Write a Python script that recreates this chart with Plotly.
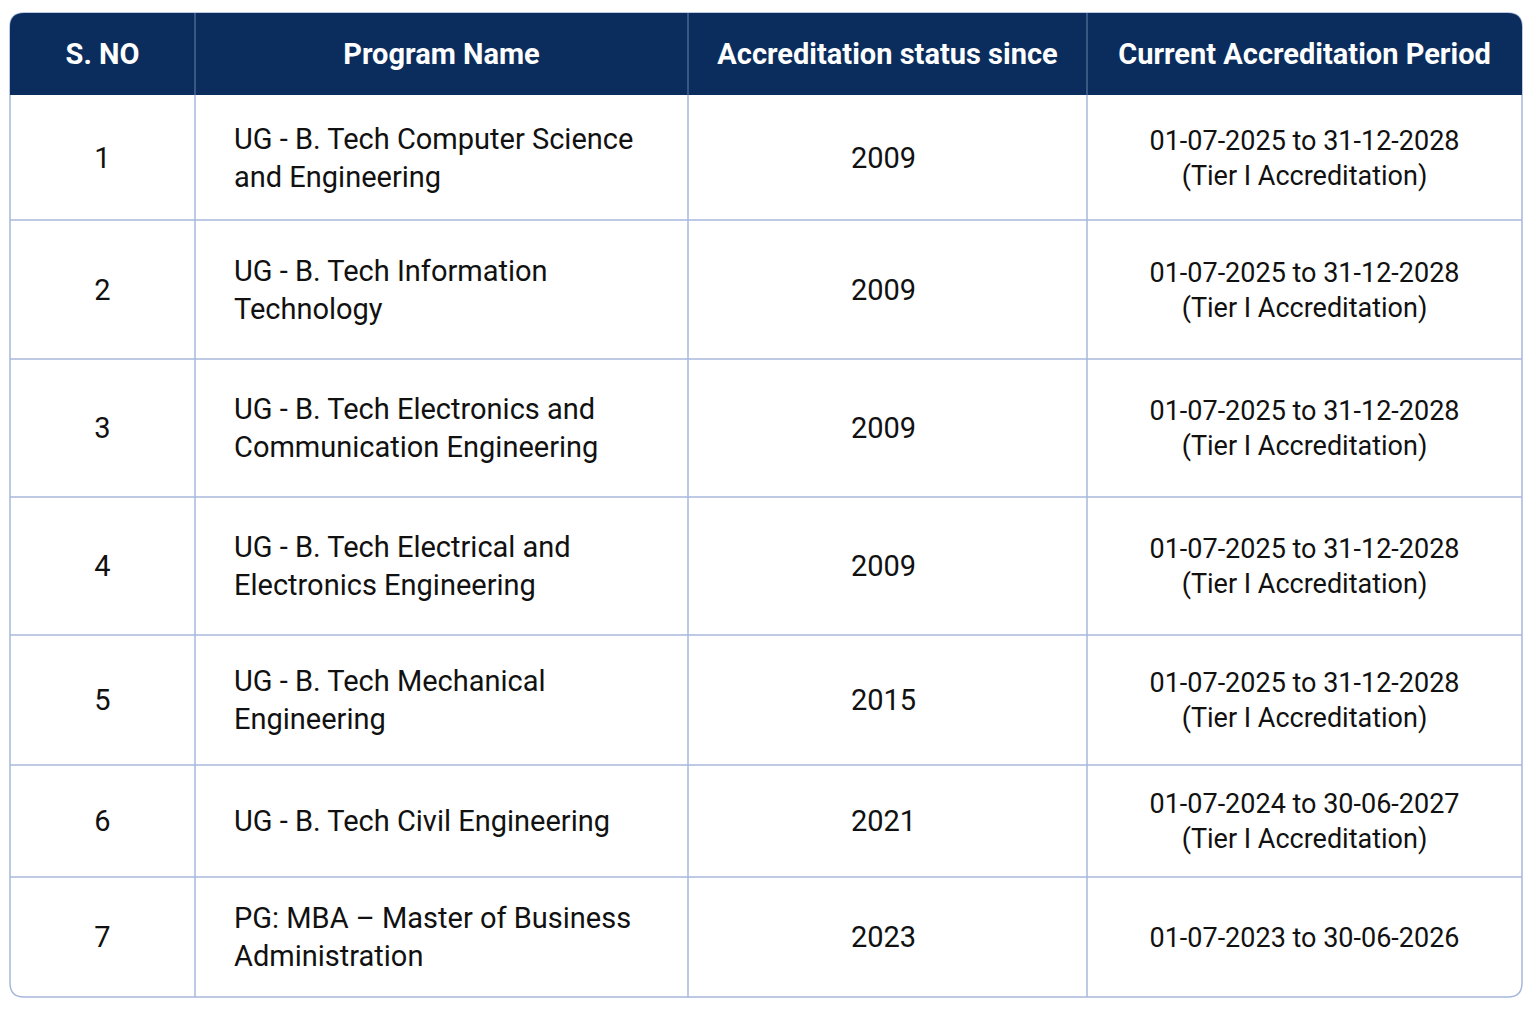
import plotly.graph_objects as go

# table contents
headers = ["S. NO", "Program Name", "Accreditation status since", "Current Accreditation Period"]
s_no = ["1", "2", "3", "4", "5", "6", "7"]
programs = [
    "UG - B. Tech Computer Science<br>and Engineering",
    "UG - B. Tech Information<br>Technology",
    "UG - B. Tech Electronics and<br>Communication Engineering",
    "UG - B. Tech Electrical and<br>Electronics Engineering",
    "UG - B. Tech Mechanical<br>Engineering",
    "UG - B. Tech Civil Engineering",
    "PG: MBA \u2013 Master of Business<br>Administration",
]
since = ["2009", "2009", "2009", "2009", "2015", "2021", "2023"]
periods = [
    "01-07-2025 to 31-12-2028<br>(Tier I Accreditation)",
    "01-07-2025 to 31-12-2028<br>(Tier I Accreditation)",
    "01-07-2025 to 31-12-2028<br>(Tier I Accreditation)",
    "01-07-2025 to 31-12-2028<br>(Tier I Accreditation)",
    "01-07-2025 to 31-12-2028<br>(Tier I Accreditation)",
    "01-07-2024 to 30-06-2027<br>(Tier I Accreditation)",
    "01-07-2023 to 30-06-2026",
]

# layout (pixel grid of the page; the page body has an 8px margin)
W, H = 1536, 1024
PAGE_MARGIN = 8
col_edges = [10, 195, 688, 1087, 1522]
header_top, header_bot = 13, 95
row_heights = [125, 139, 138, 138, 130, 112, 120]
name_pad = 39
radius = 14
text_nudge = 3  # plotly's "middle" sits a touch high

HEADER_BG = "#0b2d5e"
BORDER = "#a7b7dc"
TEXT = "#111111"
FONT = "Roboto, sans-serif"
BODY_SIZE = 29

row_edges = [header_bot]
for h in row_heights:
    row_edges.append(row_edges[-1] + h)
row_mid = [(row_edges[i] + row_edges[i + 1]) / 2 + text_nudge for i in range(len(row_heights))]
col_mid = [(col_edges[i] + col_edges[i + 1]) / 2 for i in range(len(col_edges) - 1)]

fig = go.Figure()

x0, x1 = col_edges[0], col_edges[-1]
y0, y1 = header_top, row_edges[-1]
r = radius

# body background + outer border with rounded corners
fig.add_shape(
    type="path",
    path=(f"M {x0 + r},{y0} L {x1 - r},{y0} Q {x1},{y0} {x1},{y0 + r} "
          f"L {x1},{y1 - r} Q {x1},{y1} {x1 - r},{y1} L {x0 + r},{y1} "
          f"Q {x0},{y1} {x0},{y1 - r} L {x0},{y0 + r} Q {x0},{y0} {x0 + r},{y0} Z"),
    fillcolor="white", line=dict(color=BORDER, width=1.5), layer="below",
)
# header band, rounded top corners
fig.add_shape(
    type="path",
    path=(f"M {x0 + r},{y0} L {x1 - r},{y0} Q {x1},{y0} {x1},{y0 + r} "
          f"L {x1},{header_bot} L {x0},{header_bot} L {x0},{y0 + r} Q {x0},{y0} {x0 + r},{y0} Z"),
    fillcolor=HEADER_BG, line=dict(width=0), layer="below",
)

# grid lines
for xe in col_edges[1:-1]:
    fig.add_shape(type="line", x0=xe, x1=xe, y0=header_top, y1=header_bot,
                  line=dict(color="#4a6690", width=1.5))
    fig.add_shape(type="line", x0=xe, x1=xe, y0=header_bot, y1=y1,
                  line=dict(color=BORDER, width=1.5))
for ye in row_edges[1:-1]:
    fig.add_shape(type="line", x0=x0, x1=x1, y0=ye, y1=ye,
                  line=dict(color=BORDER, width=1.5))

# header text
fig.add_trace(go.Scatter(
    x=col_mid, y=[(header_top + header_bot) / 2 + text_nudge] * 4,
    mode="text", text=headers, textposition="middle center",
    textfont=dict(family=FONT, size=29, color="white", weight="bold"),
    hoverinfo="skip",
))

# body text
body_font = dict(family=FONT, size=BODY_SIZE, color=TEXT)
fig.add_trace(go.Scatter(
    x=[col_mid[0]] * len(s_no), y=row_mid, mode="text", text=s_no,
    textposition="middle center", textfont=body_font, hoverinfo="skip",
))
fig.add_trace(go.Scatter(
    x=[col_edges[1] + name_pad] * len(programs), y=row_mid, mode="text", text=programs,
    textposition="middle right", textfont=body_font, hoverinfo="skip",
))
fig.add_trace(go.Scatter(
    x=[col_mid[2] - 4] * len(since), y=row_mid, mode="text", text=since,
    textposition="middle center", textfont=body_font, hoverinfo="skip",
))
fig.add_trace(go.Scatter(
    x=[col_mid[3]] * len(periods), y=row_mid, mode="text", text=periods,
    textposition="middle center",
    textfont=dict(family=FONT, size=27, color=TEXT), hoverinfo="skip",
))

fig_w = W - 2 * PAGE_MARGIN
fig_h = H - 2 * PAGE_MARGIN
fig.update_xaxes(range=[PAGE_MARGIN, PAGE_MARGIN + fig_w], visible=False, fixedrange=True)
fig.update_yaxes(range=[PAGE_MARGIN + fig_h, PAGE_MARGIN], visible=False, fixedrange=True)
fig.update_layout(
    width=fig_w, height=fig_h,
    margin=dict(l=0, r=0, t=0, b=0),
    paper_bgcolor="white", plot_bgcolor="white",
    showlegend=False,
)
fig.write_html("out.html")
